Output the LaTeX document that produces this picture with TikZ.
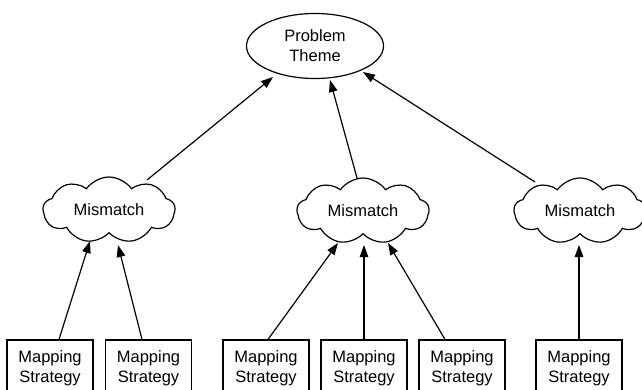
\documentclass[tikz,border=0pt]{standalone}
\usepackage{fontspec}
\setmainfont{Liberation Sans}
\usetikzlibrary{shapes.geometric,shapes.symbols,arrows.meta,calc}
\begin{document}
\begin{tikzpicture}[x=1pt,y=-1pt,
  every node/.style={font=\fontsize{16.5}{19.8}\selectfont, align=center, line width=1.2pt},
  theme/.style={draw, ellipse, minimum width=137pt, minimum height=65pt, inner sep=0pt},
  mism/.style={draw, cloud, cloud puffs=9, cloud puff arc=110, aspect=2, minimum width=132pt, minimum height=66pt, inner sep=0pt},
  strat/.style={draw, rectangle, minimum width=86pt, minimum height=56pt, inner sep=0pt},
  conn/.style={line width=1.2pt, -{Triangle[length=12pt,width=8.5pt]}}]
\useasboundingbox (0,0) rectangle (642,390);
\clip (0,0) rectangle (642,390);
\node[theme] (t) at (315,46) {Problem\\Theme};
\node[mism] (c1) at (109,210) {Mismatch};
\node[mism] (c2) at (363,211) {Mismatch};
\node[mism] (c3) at (580,211) {Mismatch};
\node[strat] (b1) at (50,368) {Mapping\\Strategy};
\node[strat] (b2) at (148.5,368) {Mapping\\Strategy};
\node[strat] (b3) at (266,368) {Mapping\\Strategy};
\node[strat] (b4) at (364,368) {Mapping\\Strategy};
\node[strat] (b5) at (462,368) {Mapping\\Strategy};
\node[strat] (b6) at (579,368) {Mapping\\Strategy};
% boxes to clouds
\draw[conn] ($(b1.north)+(9,0)$) -- ($(c1.center)+(-19,31)$);
\draw[conn] ($(b2.north)+(-6.5,0)$) -- ($(c1.center)+(9,35)$);
\draw[conn] ($(b3.north)+(2,0)$) -- ($(c2.center)+(-25,32)$);
\draw[conn] (b4.north) -- ($(c2.center)+(1,34)$);
\draw[conn] ($(b5.north)+(-17,0)$) -- ($(c2.center)+(25,32)$);
\draw[conn] (b6.north) -- ($(c3.center)+(-1,34)$);
% clouds to theme
\draw[conn] ($(c1.center)+(38,-30)$) -- ($(t.center)+(-42,31)$);
\draw[conn] ($(c2.center)+(-6,-33)$) -- ($(t.center)+(15,34)$);
\draw[conn] ($(c3.center)+(-45,-29)$) -- ($(t.center)+(48,26)$);
\end{tikzpicture}
\end{document}
